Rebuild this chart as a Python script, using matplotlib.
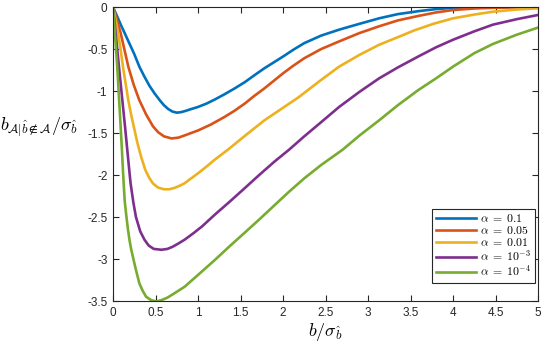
import matplotlib
matplotlib.use("Agg")
import matplotlib.pyplot as plt

# values
x_a1 = [0, 0.05, 0.1, 0.137, 0.2, 0.25, 0.31, 0.37, 0.43, 0.49, 0.55, 0.6, 0.65, 0.7, 0.75,
        0.8, 0.85, 0.92, 1.0, 1.1, 1.2, 1.31, 1.43, 1.55, 1.66, 1.78, 1.89, 2.0, 2.12, 2.25,
        2.45, 2.66, 2.9, 3.13, 3.35, 3.59, 3.8, 4.0, 4.25, 4.5, 5.0]
y_a1 = [0, -0.115, -0.23, -0.31, -0.45, -0.56, -0.71, -0.83, -0.94, -1.03, -1.11, -1.17, -1.215, -1.245, -1.258,
        -1.252, -1.238, -1.215, -1.19, -1.15, -1.10, -1.04, -0.97, -0.895, -0.815, -0.73, -0.66, -0.59, -0.51, -0.43,
        -0.34, -0.27, -0.20, -0.135, -0.085, -0.05, -0.025, -0.01, -0.004, 0, 0]

x_a05 = [0, 0.045, 0.09, 0.135, 0.18, 0.245, 0.31, 0.39, 0.47, 0.53, 0.6, 0.69, 0.77, 0.84,
         0.92, 1.0, 1.15, 1.31, 1.43, 1.55, 1.66, 1.78, 1.89, 2.0, 2.12, 2.25, 2.45, 2.66, 2.9,
         3.13, 3.35, 3.59, 3.8, 4.0, 4.25, 4.47, 4.75, 5.0]
y_a05 = [0, -0.15, -0.31, -0.51, -0.71, -0.93, -1.11, -1.28, -1.42, -1.49, -1.54, -1.565, -1.555, -1.53,
         -1.50, -1.47, -1.40, -1.31, -1.235, -1.15, -1.06, -0.97, -0.88, -0.79, -0.70, -0.61, -0.50, -0.41, -0.31,
         -0.23, -0.16, -0.107, -0.065, -0.036, -0.018, -0.01, -0.004, 0]

x_a01 = [0, 0.03, 0.06, 0.09, 0.117, 0.15, 0.18, 0.215, 0.25, 0.29, 0.33, 0.38, 0.43, 0.47, 0.53,
         0.6, 0.66, 0.72, 0.78, 0.84, 0.92, 1.0, 1.1, 1.194, 1.35, 1.55, 1.78, 2.0, 2.19, 2.42, 2.66,
         2.9, 3.13, 3.35, 3.54, 3.77, 4.0, 4.25, 4.47, 4.75, 5.0]
y_a01 = [0, -0.15, -0.31, -0.51, -0.71, -0.92, -1.11, -1.29, -1.45, -1.63, -1.78, -1.94, -2.04, -2.10, -2.15,
         -2.17, -2.17, -2.155, -2.13, -2.10, -2.04, -1.98, -1.90, -1.82, -1.70, -1.535, -1.35, -1.20, -1.07, -0.89, -0.71,
         -0.57, -0.45, -0.36, -0.28, -0.20, -0.135, -0.09, -0.056, -0.03, -0.015]

x_a3 = [0, 0.035, 0.07, 0.095, 0.12, 0.145, 0.168, 0.19, 0.207, 0.24, 0.27, 0.32, 0.37, 0.42, 0.48,
        0.57, 0.64, 0.7, 0.77, 0.843, 0.95, 1.05, 1.2, 1.37, 1.546, 1.72, 1.9, 2.07, 2.25, 2.45,
        2.66, 2.9, 3.13, 3.35, 3.59, 3.8, 4.0, 4.25, 4.47, 4.75, 5.0]
y_a3 = [0, -0.35, -0.71, -0.96, -1.21, -1.46, -1.70, -1.93, -2.10, -2.33, -2.50, -2.67, -2.77, -2.84, -2.88,
        -2.89, -2.88, -2.855, -2.815, -2.77, -2.69, -2.61, -2.47, -2.32, -2.16, -2.0, -1.84, -1.70, -1.54, -1.37,
        -1.19, -1.01, -0.85, -0.72, -0.59, -0.48, -0.39, -0.29, -0.21, -0.145, -0.095]

x_a4 = [0, 0.025, 0.05, 0.065, 0.08, 0.093, 0.105, 0.12, 0.137, 0.155, 0.175, 0.195, 0.215, 0.24,
        0.27, 0.31, 0.35, 0.39, 0.45, 0.51, 0.57, 0.64, 0.72, 0.843, 1.0, 1.2, 1.37, 1.546, 1.72,
        1.9, 2.07, 2.25, 2.45, 2.70, 2.9, 3.13, 3.35, 3.59, 3.8, 4.0, 4.25, 4.47, 4.75, 5.0]
y_a4 = [0, -0.35, -0.71, -0.98, -1.25, -1.48, -1.70, -2.00, -2.30, -2.47, -2.64, -2.78, -2.89, -3.0,
        -3.13, -3.29, -3.38, -3.45, -3.49, -3.505, -3.49, -3.46, -3.41, -3.33, -3.19, -3.01, -2.85, -2.69, -2.53,
        -2.36, -2.20, -2.04, -1.88, -1.70, -1.53, -1.35, -1.17, -0.99, -0.85, -0.71, -0.55, -0.44, -0.33, -0.245]

labels = [r'$\alpha\;=\;0.1$', r'$\alpha\;=\;0.05$', r'$\alpha\;=\;0.01$',
          r'$\alpha\;=\;10^{-3}$', r'$\alpha\;=\;10^{-4}$']
colors = ['#0072BD', '#D95319', '#EDB120', '#7E2F8E', '#77AC30']

plt.rcParams['mathtext.fontset'] = 'cm'
plt.rcParams['font.family'] = ['Liberation Sans', 'DejaVu Sans']
plt.rcParams['axes.unicode_minus'] = False

fig = plt.figure(figsize=(5.5, 3.48), dpi=100)
ax = fig.add_axes([113/550, 47/348, 425/550, 294/348])

series = [(x_a1, y_a1), (x_a05, y_a05), (x_a01, y_a01), (x_a3, y_a3), (x_a4, y_a4)]
for (xs, ys), c, lab in zip(series, colors, labels):
    ax.plot(xs, ys, color=c, lw=1.9, label=lab, solid_joinstyle='round')

ax.set_xlim(0, 5)
ax.set_ylim(-3.5, 0)
ax.set_xticks([0, 0.5, 1, 1.5, 2, 2.5, 3, 3.5, 4, 4.5, 5])
ax.set_xticklabels(['0', '0.5', '1', '1.5', '2', '2.5', '3', '3.5', '4', '4.5', '5'])
ax.set_yticks([-3.5, -3, -2.5, -2, -1.5, -1, -0.5, 0])
ax.set_yticklabels(['-3.5', '-3', '-2.5', '-2', '-1.5', '-1', '-0.5', '0'])
ax.tick_params(direction='in', length=4, width=0.8, labelsize=8.5, color='#262626',
               labelcolor='#262626', top=True, right=True, pad=4)
for s in ax.spines.values():
    s.set_color('#262626')
    s.set_linewidth(0.8)

ax.set_xlabel(r'$b/\sigma_{\hat{b}}$', fontsize=13, labelpad=2)
ax.set_ylabel(r'$b_{\mathcal{A}|\hat{b}\notin\mathcal{A}}/\sigma_{\hat{b}}$', fontsize=13,
              rotation=0)
ax.yaxis.set_label_coords(-0.175, 0.55)

leg = ax.legend(loc='lower right', bbox_to_anchor=(0.993, 0.062), fontsize=8.5,
                handlelength=3.4, labelspacing=0.0, borderpad=0.35, handletextpad=0.3,
                fancybox=False, framealpha=1, borderaxespad=0)
leg.get_frame().set_edgecolor('#262626')
leg.get_frame().set_linewidth(0.8)

fig.savefig('out.png', dpi=100)
